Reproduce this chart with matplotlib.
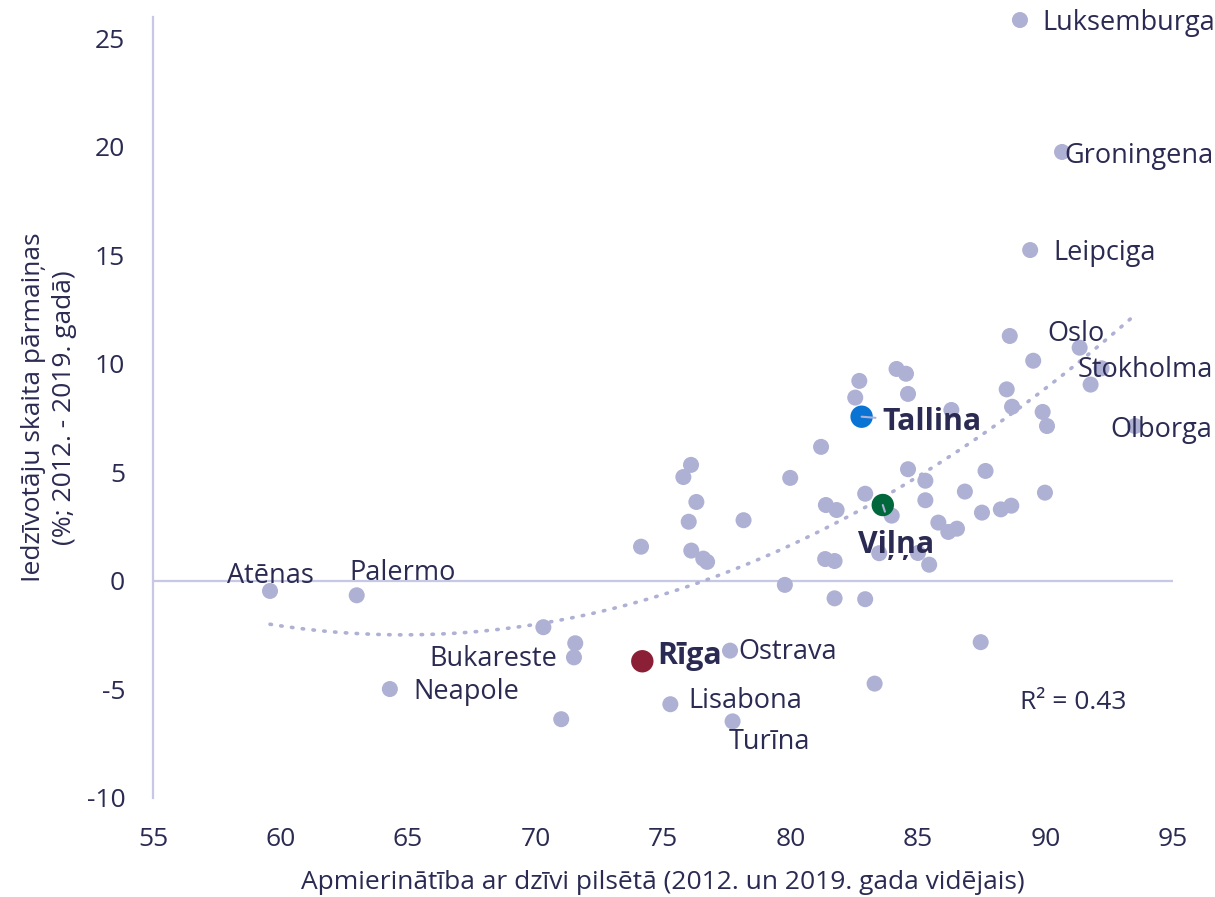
import matplotlib.pyplot as plt
import numpy as np

plt.rcParams['font.family'] = ['Open Sans', 'DejaVu Sans']
plt.rcParams['axes.unicode_minus'] = False

# satisfaction with life in the city (x) vs population change (y)
sat = [89.0, 90.65, 89.4, 88.6, 91.34, 89.52, 92.2, 91.77, 88.48, 88.69,
       89.89, 90.06, 93.51, 89.98, 82.7, 82.54, 84.16, 84.53, 84.61, 86.31,
       81.2, 76.1, 75.8, 79.99, 84.61, 87.65, 85.29, 86.84, 82.93,
       85.29, 76.31, 81.39, 81.81, 83.97, 87.51, 88.25, 88.66, 76.01,
       78.16, 85.8, 86.19, 86.53, 74.14, 76.11, 76.58, 76.73, 83.48, 85.0,
       81.36, 81.73, 85.44, 79.78, 81.73, 82.93, 70.31, 71.56, 71.51,
       77.63, 87.46, 83.3, 71.01, 75.29, 77.73, 64.29, 59.59, 62.99]
pop = [25.85, 19.77, 15.25, 11.29, 10.75, 10.15, 9.8, 9.05, 8.83, 8.03,
       7.79, 7.14, 7.14, 4.07, 9.22, 8.45, 9.77, 9.55, 8.62, 7.88,
       6.18, 5.35, 4.79, 4.75, 5.15, 5.07, 4.62, 4.12, 4.02,
       3.72, 3.64, 3.5, 3.27, 3.01, 3.15, 3.3, 3.47, 2.73,
       2.8, 2.69, 2.26, 2.41, 1.58, 1.4, 1.03, 0.88, 1.28, 1.29,
       1.01, 0.92, 0.75, -0.18, -0.8, -0.84, -2.13, -2.87, -3.52,
       -3.21, -2.82, -4.73, -6.37, -5.68, -6.47, -4.98, -0.46, -0.66]

# highlighted Baltic capitals
baltic_names = ['Tallina', 'Viļņa', 'Rīga']
baltic_sat = [82.79, 83.62, 74.19]
baltic_pop = [7.57, 3.5, -3.7]
baltic_colors = ['#0a74d4', '#00683a', '#8a1f35']

# labelled cities: name, index in sat/pop, offset (points), alignment
labels = [('Luksemburga', 0, (16, -2), 'left'),
          ('Groningena', 1, (2, -3), 'left'),
          ('Leipciga', 2, (17, -2), 'left'),
          ('Oslo', 4, (-23, 10), 'left'),
          ('Stokholma', 6, (-17, -1.5), 'left'),
          ('Olborga', 12, (-18, -2.5), 'left'),
          ('Ostrava', 57, (6, -1), 'left'),
          ('Lisabona', 61, (13, 2), 'left'),
          ('Turīna', 62, (-3, -15), 'left'),
          ('Neapole', 63, (17, -2), 'left'),
          ('Bukareste', 56, (-12, -1), 'right'),
          ('Atēnas', 64, (0, 11), 'center'),
          ('Palermo', 65, (-5, 16), 'left')]

dot = '#aeb0d4'
line = '#c7c7e6'
txt = '#2a2a52'

fig = plt.figure(figsize=(12.15, 8.97), dpi=100)
ax = fig.add_axes([0.1259, 0.1104, 0.8395, 0.8709])

ax.axhline(0, color=line, lw=1.6, zorder=1)

all_x = np.array(sat + baltic_sat)
all_y = np.array(pop + baltic_pop)
coef = np.polyfit(all_x, all_y, 2)
xs = np.linspace(all_x.min(), all_x.max(), 200)
ax.plot(xs, np.polyval(coef, xs), color=dot, lw=2.6, ls=(0, (0.4, 2.6)),
        dash_capstyle='round', zorder=2)

ax.scatter(sat, pop, s=133, color=dot, edgecolors='none', zorder=3, clip_on=False)

for name, i, off, ha in labels:
    ax.annotate(name, (sat[i], pop[i]), xytext=off, textcoords='offset points',
                ha=ha, va='center', fontsize=19.5, color=txt, zorder=5)

ax.scatter(baltic_sat, baltic_pop, s=260, c=baltic_colors, edgecolors='none', zorder=4)
ax.annotate('Tallina', (baltic_sat[0], baltic_pop[0]), xytext=(15, -4),
            textcoords='offset points', ha='left', va='center', fontsize=21.8,
            fontweight='bold', color=txt, zorder=5,
            arrowprops=dict(arrowstyle='-', color=dot, lw=1.5, shrinkA=3, shrinkB=0))
ax.annotate('Viļņa', (baltic_sat[1], baltic_pop[1]), xytext=(-18, -29),
            textcoords='offset points', ha='left', va='center', fontsize=21.8,
            fontweight='bold', color=txt, zorder=5,
            arrowprops=dict(arrowstyle='-', color=dot, lw=1.5, shrinkA=12, shrinkB=0))
ax.annotate('Rīga', (baltic_sat[2], baltic_pop[2]), xytext=(11, 4),
            textcoords='offset points', ha='left', va='center', fontsize=21.8,
            fontweight='bold', color=txt, zorder=5)

ax.text(0.85, 0.122, 'R² = 0.43', transform=ax.transAxes, fontsize=19,
        color=txt, ha='left', va='center')

ax.set_xlim(55, 95)
ax.set_ylim(-10, 26)
ax.set_xticks(range(55, 96, 5))
ax.set_yticks(range(-10, 26, 5))
ax.tick_params(length=0, labelsize=19, labelcolor=txt)
ax.tick_params(axis='x', pad=21)
ax.tick_params(axis='y', pad=20)
for s in ['top', 'right', 'bottom']:
    ax.spines[s].set_visible(False)
ax.spines['left'].set_color(line)
ax.spines['left'].set_linewidth(1.6)

ax.set_xlabel('Apmierinātība ar dzīvi pilsētā (2012. un 2019. gada vidējais)',
              fontsize=19, color=txt, labelpad=13)
ax.set_ylabel('Iedzīvotāju skaita pārmaiņas\n(%; 2012. - 2019. gadā)',
              fontsize=19, color=txt, labelpad=7, linespacing=1.3)

fig.savefig('out.png', dpi=100)
